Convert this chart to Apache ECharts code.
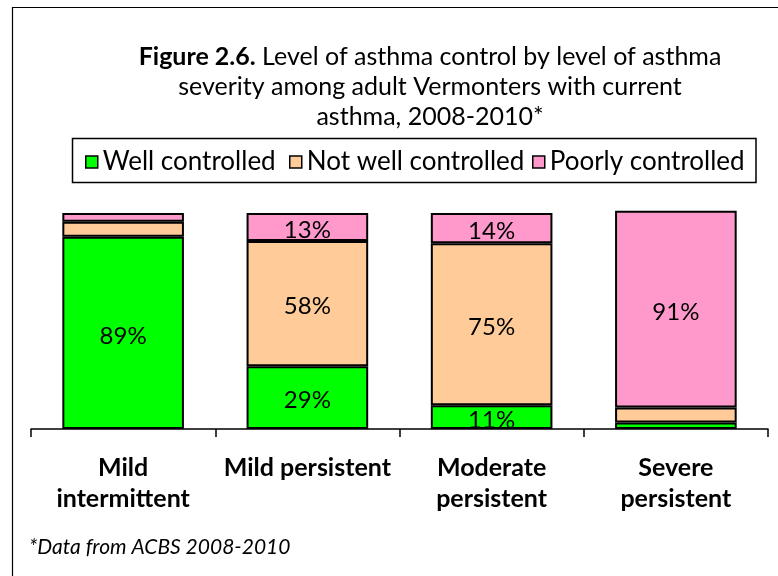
<!DOCTYPE html>
<html>
<head>
<meta charset="utf-8">
<script src="https://cdn.jsdelivr.net/npm/echarts@6/dist/echarts.min.js"></script>
<style>html,body{margin:0;padding:0;background:#fff;}#c{width:778px;height:576px;}</style>
</head>
<body>
<div id="c"></div>
<script>
var categories = ['Mild\nintermittent', 'Mild persistent', 'Moderate\npersistent', 'Severe\npersistent'];
var seriesNames = ['Well controlled', 'Not well controlled', 'Poorly controlled'];
var wellControlled = [89, 29, 11, 3];
var notWellControlled = [7, 58, 75, 7];
var poorlyControlled = [4, 13, 14, 91];
var colors = ['#00FF00', '#FFCC99', '#FF99CC'];

var FONT = 'Lato';
var chart = echarts.init(document.getElementById('c'), null, {renderer: 'canvas'});

function mkData(arr) {
  return arr.map(function (v) { return {value: v, label: {show: v >= 10}}; });
}
var allValues = [wellControlled, notWellControlled, poorlyControlled];
var series = allValues.map(function (vals, i) {
  return {
    name: seriesNames[i],
    type: 'bar',
    stack: 'total',
    barWidth: '66%',
    clip: false,
    itemStyle: {color: colors[i], borderColor: '#000', borderWidth: 2},
    label: {position: 'inside', offset: [0, 3], color: '#000', fontFamily: FONT, fontSize: 24, formatter: '{c}%'},
    data: mkData(vals)
  };
});

var legendLefts = [85, 289, 532];
var legends = seriesNames.map(function (n, i) {
  return {
    data: [n], left: legendLefts[i], top: 149, padding: 0,
    icon: 'rect', itemWidth: 12, itemHeight: 12,
    itemStyle: {borderColor: '#000', borderWidth: 1.5},
    textStyle: {fontFamily: FONT, fontSize: 26, color: '#000'},
    selectedMode: false
  };
});

chart.setOption({
  animation: false,
  backgroundColor: '#fff',
  title: {
    text: '{b|Figure 2.6.} Level of asthma control by level of asthma\nseverity among adult Vermonters with current\nasthma, 2008-2010*',
    left: 430, top: 42, textAlign: 'center', padding: 0,
    textStyle: {
      fontFamily: FONT, fontSize: 25, fontWeight: 'normal', color: '#000', lineHeight: 30,
      rich: {b: {fontFamily: FONT, fontSize: 25, fontWeight: 'bold', color: '#000', lineHeight: 30}}
    }
  },
  legend: legends,
  grid: {left: 31, right: 10, top: 213, bottom: 147, containLabel: false},
  xAxis: {
    type: 'category', data: categories,
    axisLine: {lineStyle: {color: '#000', width: 1.5}},
    axisTick: {show: true, length: 8, lineStyle: {color: '#000', width: 1.5}},
    axisLabel: {fontFamily: FONT, fontSize: 25, fontWeight: 'bold', color: '#000', margin: 23, lineHeight: 31, interval: 0}
  },
  yAxis: {type: 'value', min: 0, max: 100, show: false},
  graphic: [
    {type: 'rect', shape: {x: 12.5, y: 7.5, width: 900, height: 700}, style: {fill: 'none', stroke: '#000', lineWidth: 1.2}, silent: true, z: -1},
    {type: 'rect', shape: {x: 72.5, y: 138.5, width: 683.5, height: 44}, style: {fill: 'none', stroke: '#000', lineWidth: 1.5}, silent: true},
    {type: 'text', left: 29, top: 537, style: {text: '*Data from ACBS 2008-2010', fontFamily: FONT, fontSize: 21, fontStyle: 'italic', fill: '#000'}, silent: true}
  ],
  series: series
});
</script>
</body>
</html>
